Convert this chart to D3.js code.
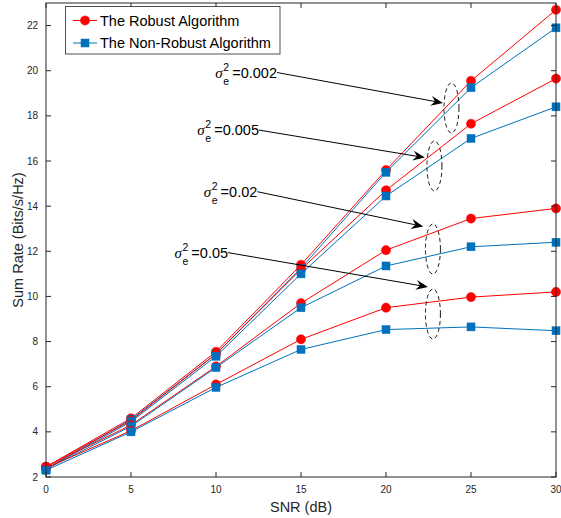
<!DOCTYPE html>
<html>
<head>
<meta charset="utf-8">
<script src="https://cdn.jsdelivr.net/npm/d3@7"></script>
<style>
  body { margin: 0; background: #fff; }
  text { font-family: "Liberation Sans", Arial, Helvetica, sans-serif; }
</style>
</head>
<body>
<div id="chart"></div>
<script>
// SNR values on the x axis
const snr = [0, 5, 10, 15, 20, 25, 30];

// sum rate, one list per error variance
const robust002 = [2.45, 4.6, 7.55, 11.4, 15.6, 19.55, 22.7];
const nonRobust002 = [2.35, 4.55, 7.45, 11.25, 15.5, 19.25, 21.9];
const robust005 = [2.45, 4.5, 7.45, 11.2, 14.7, 17.65, 19.65];
const nonRobust005 = [2.35, 4.45, 7.35, 11.0, 14.45, 17.0, 18.4];
const robust02 = [2.45, 4.3, 6.9, 9.7, 12.05, 13.45, 13.9];
const nonRobust02 = [2.35, 4.25, 6.85, 9.5, 11.35, 12.2, 12.4];
const robust05 = [2.4, 4.05, 6.1, 8.1, 9.5, 9.97, 10.2];
const nonRobust05 = [2.3, 4.0, 5.97, 7.65, 8.53, 8.65, 8.48];

const xTicks = [0, 5, 10, 15, 20, 25, 30];
const yTicks = [2, 4, 6, 8, 10, 12, 14, 16, 18, 20, 22];

const legendNames = ["The Robust Algorithm", "The Non-Robust Algorithm"];
const sigmaValues = ["0.002", "0.005", "0.02", "0.05"];

// annotation anchors, in data units
const arrowTail = [[13.59, 19.92], [12.53, 17.37], [12.43, 14.64], [10.71, 11.94]];
const arrowHead = [[23.35, 18.57], [22.29, 16.15], [22.19, 13.1], [22.47, 10.42]];
const ellipseAt = [[23.85, 18.35], [22.85, 15.78], [22.76, 12.1], [22.76, 9.22]];

const series = [
  { values: robust002, kind: 0 }, { values: nonRobust002, kind: 1 },
  { values: robust005, kind: 0 }, { values: nonRobust005, kind: 1 },
  { values: robust02, kind: 0 }, { values: nonRobust02, kind: 1 },
  { values: robust05, kind: 0 }, { values: nonRobust05, kind: 1 }
];

const colors = ["#ff0000", "#0072bd"];
const width = 561, height = 518;
const margin = { left: 46, right: 5, top: 3, bottom: 41 };
const axisColor = "#262626";

const svg = d3.select("#chart").append("svg")
  .attr("width", width)
  .attr("height", height);

const x = d3.scaleLinear().domain([0, 30]).range([margin.left, width - margin.right]);
const y = d3.scaleLinear().domain([2, 23]).range([height - margin.bottom, margin.top]);

// marker drawing helper
function drawMarker(g, kind, cx, cy) {
  if (kind === 0) {
    g.append("circle").attr("cx", cx).attr("cy", cy).attr("r", 4.6)
      .attr("fill", colors[0]).attr("stroke", colors[0]).attr("stroke-width", 0.5);
  } else {
    g.append("rect").attr("x", cx - 4).attr("y", cy - 4)
      .attr("width", 8).attr("height", 8)
      .attr("fill", colors[1]).attr("stroke", colors[1]).attr("stroke-width", 0.5);
  }
}

// lines and markers
const line = d3.line().x((d, i) => x(snr[i])).y(d => y(d));
const plot = svg.append("g");
series.forEach(s => {
  const g = plot.append("g");
  g.append("path")
    .attr("d", line(s.values))
    .attr("fill", "none")
    .attr("stroke", colors[s.kind])
    .attr("stroke-width", 1);
  s.values.forEach((v, i) => drawMarker(g, s.kind, x(snr[i]), y(v)));
});

// axes (box with inward ticks)
const x0 = x(0), x1 = x(30), y0 = y(2), y1 = y(23);
const axes = svg.append("g").attr("stroke", axisColor).attr("stroke-width", 1).attr("fill", "none");
axes.append("rect").attr("x", x0).attr("y", y1).attr("width", x1 - x0).attr("height", y0 - y1);

xTicks.forEach(t => {
  axes.append("line").attr("x1", x(t)).attr("x2", x(t)).attr("y1", y0).attr("y2", y0 - 5);
  axes.append("line").attr("x1", x(t)).attr("x2", x(t)).attr("y1", y1).attr("y2", y1 + 5);
});
yTicks.forEach(t => {
  axes.append("line").attr("x1", x0).attr("x2", x0 + 5).attr("y1", y(t)).attr("y2", y(t));
  axes.append("line").attr("x1", x1).attr("x2", x1 - 5).attr("y1", y(t)).attr("y2", y(t));
});

svg.append("g").selectAll("text").data(xTicks).enter().append("text")
  .attr("x", d => x(d)).attr("y", y0 + 16)
  .attr("text-anchor", "middle").attr("font-size", 10).attr("fill", axisColor)
  .text(d => d);

svg.append("g").selectAll("text").data(yTicks).enter().append("text")
  .attr("x", x0 - 8).attr("y", d => y(d) + 3.5)
  .attr("text-anchor", "end").attr("font-size", 10).attr("fill", axisColor)
  .text(d => d);

svg.append("text")
  .attr("x", (x0 + x1) / 2).attr("y", 512)
  .attr("text-anchor", "middle").attr("font-size", 14.5).attr("fill", axisColor)
  .text("SNR (dB)");

svg.append("text")
  .attr("transform", `translate(23,${(y0 + y1) / 2}) rotate(-90)`)
  .attr("text-anchor", "middle").attr("font-size", 14.5).attr("fill", axisColor)
  .text("Sum Rate (Bits/s/Hz)");

// dashed ellipses
ellipseAt.forEach(p => {
  svg.append("ellipse")
    .attr("cx", x(p[0])).attr("cy", y(p[1]))
    .attr("rx", 7.5).attr("ry", 25)
    .attr("fill", "none").attr("stroke", "#000")
    .attr("stroke-width", 0.9).attr("stroke-dasharray", "4,3");
});

// arrows with labels
const notes = svg.append("g");
sigmaValues.forEach((val, i) => {
  const tx = x(arrowTail[i][0]), ty = y(arrowTail[i][1]);
  const hx = x(arrowHead[i][0]), hy = y(arrowHead[i][1]);
  const ang = Math.atan2(hy - ty, hx - tx);
  const ux = Math.cos(ang), uy = Math.sin(ang);
  const len = 12, wid = 5, notch = 8;
  const bx = hx - ux * len, by = hy - uy * len;
  const nx = hx - ux * notch, ny = hy - uy * notch;

  notes.append("line")
    .attr("x1", tx).attr("y1", ty).attr("x2", nx).attr("y2", ny)
    .attr("stroke", "#000").attr("stroke-width", 1);
  notes.append("path")
    .attr("d", `M${hx},${hy}L${bx - uy * wid},${by + ux * wid}L${nx},${ny}L${bx + uy * wid},${by - ux * wid}Z`)
    .attr("fill", "#000");

  // label: sigma_e^2=value, right end touching the arrow tail
  const base = ty + 5;
  const rest = notes.append("text")
    .attr("x", tx).attr("y", base)
    .attr("text-anchor", "end").attr("font-size", 14.5)
    .text("=" + val);
  const w = rest.node().getComputedTextLength();
  const sx = tx - w - 6;
  notes.append("text").attr("x", sx).attr("y", base - 7)
    .attr("text-anchor", "middle").attr("font-size", 10.5).text("2");
  notes.append("text").attr("x", sx).attr("y", base + 7)
    .attr("text-anchor", "middle").attr("font-size", 10.5).text("e");
  notes.append("text").attr("x", sx - 3.5).attr("y", base)
    .attr("text-anchor", "end").attr("font-size", 15)
    .attr("font-style", "italic")
    .style("font-family", "'Liberation Serif', 'DejaVu Serif', serif")
    .text("σ");
});

// legend
const legend = svg.append("g");
legend.append("rect")
  .attr("x", 65.5).attr("y", 6.5).attr("width", 214.5).attr("height", 47.5)
  .attr("fill", "#fff").attr("stroke", "#262626").attr("stroke-width", 0.8);
legendNames.forEach((name, i) => {
  const ly = 20.5 + i * 22.5;
  legend.append("line").attr("x1", 73).attr("x2", 97).attr("y1", ly).attr("y2", ly)
    .attr("stroke", colors[i]).attr("stroke-width", 1);
  drawMarker(legend, i, 85, ly);
  legend.append("text").attr("x", 100).attr("y", ly + 5)
    .attr("font-size", 14.5).attr("fill", "#000").text(name);
});
</script>
</body>
</html>
